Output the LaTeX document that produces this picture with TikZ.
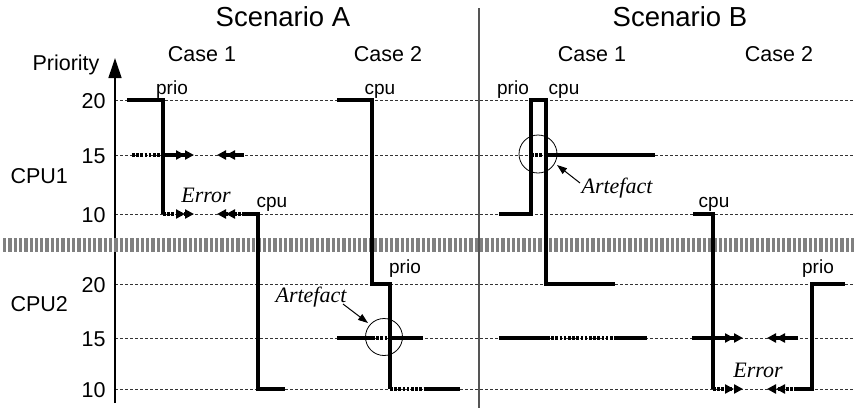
\documentclass[tikz,border=0pt]{standalone}
\usepackage{fontspec}
\setmainfont{Liberation Sans}
\newfontfamily\notafont{Liberation Serif}
\usetikzlibrary{arrows.meta}
\definecolor{sepGris}{HTML}{808080}
\definecolor{guiaGris}{HTML}{333333}
\definecolor{lineaGris}{HTML}{555555}

\begin{document}
\begin{tikzpicture}[x=1pt, y=-1pt,
    traza/.style={line width=3.4pt, line cap=butt},
    trazapunt/.style={traza, dash pattern=on 2.6pt off 1.6pt},
    guia/.style={guiaGris, line width=0.7pt, dash pattern=on 3pt off 2pt},
    flecha/.style={-{Triangle[length=9pt,width=9pt] Triangle[length=9pt,width=9pt]}},
    titulo/.style={anchor=base, font=\fontsize{27.5}{30}\selectfont},
    etq/.style={anchor=base, font=\fontsize{21.5}{24}\selectfont},
    chica/.style={anchor=base, font=\fontsize{19}{22}\selectfont},
    nota/.style={anchor=base, font=\fontsize{22}{25}\selectfont\notafont\itshape}]
    \useasboundingbox (0,0) rectangle (855,408);
    % titles
    \node[titulo] (escA) at (283,26) {Scenario A};
    \node[titulo] (escB) at (680,26) {Scenario B};
    \foreach \x/\n/\t in {202/a1/Case 1, 388/a2/Case 2, 592/b1/Case 1, 779/b2/Case 2}
      \node[etq] (caso\n) at (\x,61) {\t};
    \node[etq] (prioridad) at (66,70) {Priority};
    \node[etq, anchor=base west] (cpuuno) at (7,183) {CPU1};
    \node[etq, anchor=base west] (cpudos) at (7,311) {CPU2};
    % axis, guides, separators
    \foreach \y/\v in {100/20, 155/15, 214/10, 284/20, 338/15, 389/10} {
      \draw[guia] (115,\y) -- (855,\y);
      \node[etq, anchor=base east] (nivel\y) at (109,\y+8) {\v};
    }
    \coordinate (ejeabajo) at (115,403);
    \coordinate (ejearriba) at (115,58);
    \draw[line width=1.3pt, -{Triangle[length=20pt,width=13pt]}] (ejeabajo) -- (ejearriba);
    \draw[lineaGris, line width=1.3pt] (479,8) -- (479,408);
    \draw[sepGris, line width=14pt, dash pattern=on 3.3pt off 2pt] (3,245) -- (855,245);
    % Scenario A, case 1
    \draw[traza] (127,100) -- (163,100) -- (163,214);
    \draw[trazapunt, flecha] (163,214) -- (194,214);
    \draw[trazapunt] (132,155) -- (163,155);
    \draw[traza, flecha] (163,155) -- (194,155);
    \draw[traza, flecha] (244,155) -- (217,155);
    \draw[trazapunt, flecha] (245,214) -- (217,214);
    \draw[traza] (244,214) -- (258,214) -- (258,389) -- (285,389);
    \node[chica] (prioA1) at (172,94) {prio};
    \node[chica] (cpuA1) at (272,207) {cpu};
    \node[nota] (errorA) at (206,202) {Error};
    % Scenario A, case 2
    \draw[traza] (337,100) -- (372,100) -- (372,284) -- (390,284) -- (390,389);
    \draw[trazapunt] (390,389) -- (425,389);
    \draw[traza] (425,389) -- (460,389);
    \draw[traza] (337,338) -- (372,338);
    \draw[trazapunt] (372,338) -- (390,338);
    \draw[traza] (390,338) -- (423,338);
    \node[chica] (cpuA2) at (380,94) {cpu};
    \node[chica] (prioA2) at (405,273) {prio};
    \coordinate (circA) at (384,337);
    \draw[line width=0.8pt] (circA) circle[radius=18.5pt];
    \node[nota] (artA) at (311,302) {Artefact};
    \draw[line width=1pt, -{Triangle[length=10pt,width=7pt]}] (343,304) -- (368,323);
    % Scenario B, case 1
    \draw[traza] (499,214) -- (531,214) -- (531,100) -- (546,100) -- (546,284) -- (615,284);
    \draw[trazapunt] (531,155) -- (546,155);
    \draw[traza] (546,155) -- (655,155);
    \draw[traza] (499,338) -- (547,338);
    \draw[trazapunt] (547,338) -- (615,338);
    \draw[traza] (615,338) -- (647,338);
    \node[chica] (prioB1) at (513,94) {prio};
    \node[chica] (cpuB1) at (564,94) {cpu};
    \coordinate (circB) at (538,154);
    \draw[line width=0.8pt] (circB) circle[radius=19pt];
    \node[nota] (artB) at (617,193) {Artefact};
    \draw[line width=1pt, -{Triangle[length=10pt,width=7pt]}] (580,183) -- (557,165);
    % Scenario B, case 2
    \draw[traza] (693,214) -- (713,214) -- (713,389);
    \draw[trazapunt, flecha] (713,389) -- (743,389);
    \draw[traza, flecha] (692,338) -- (743,338);
    \draw[traza, flecha] (798,338) -- (767,338);
    \draw[trazapunt, flecha] (797,389) -- (767,389);
    \draw[traza] (797,389) -- (812,389) -- (812,284) -- (845,284);
    \node[chica] (cpuB2) at (714,207) {cpu};
    \node[chica] (prioB2) at (818,273) {prio};
    \node[nota] (errorB) at (758,377) {Error};
  \end{tikzpicture}
\end{document}
